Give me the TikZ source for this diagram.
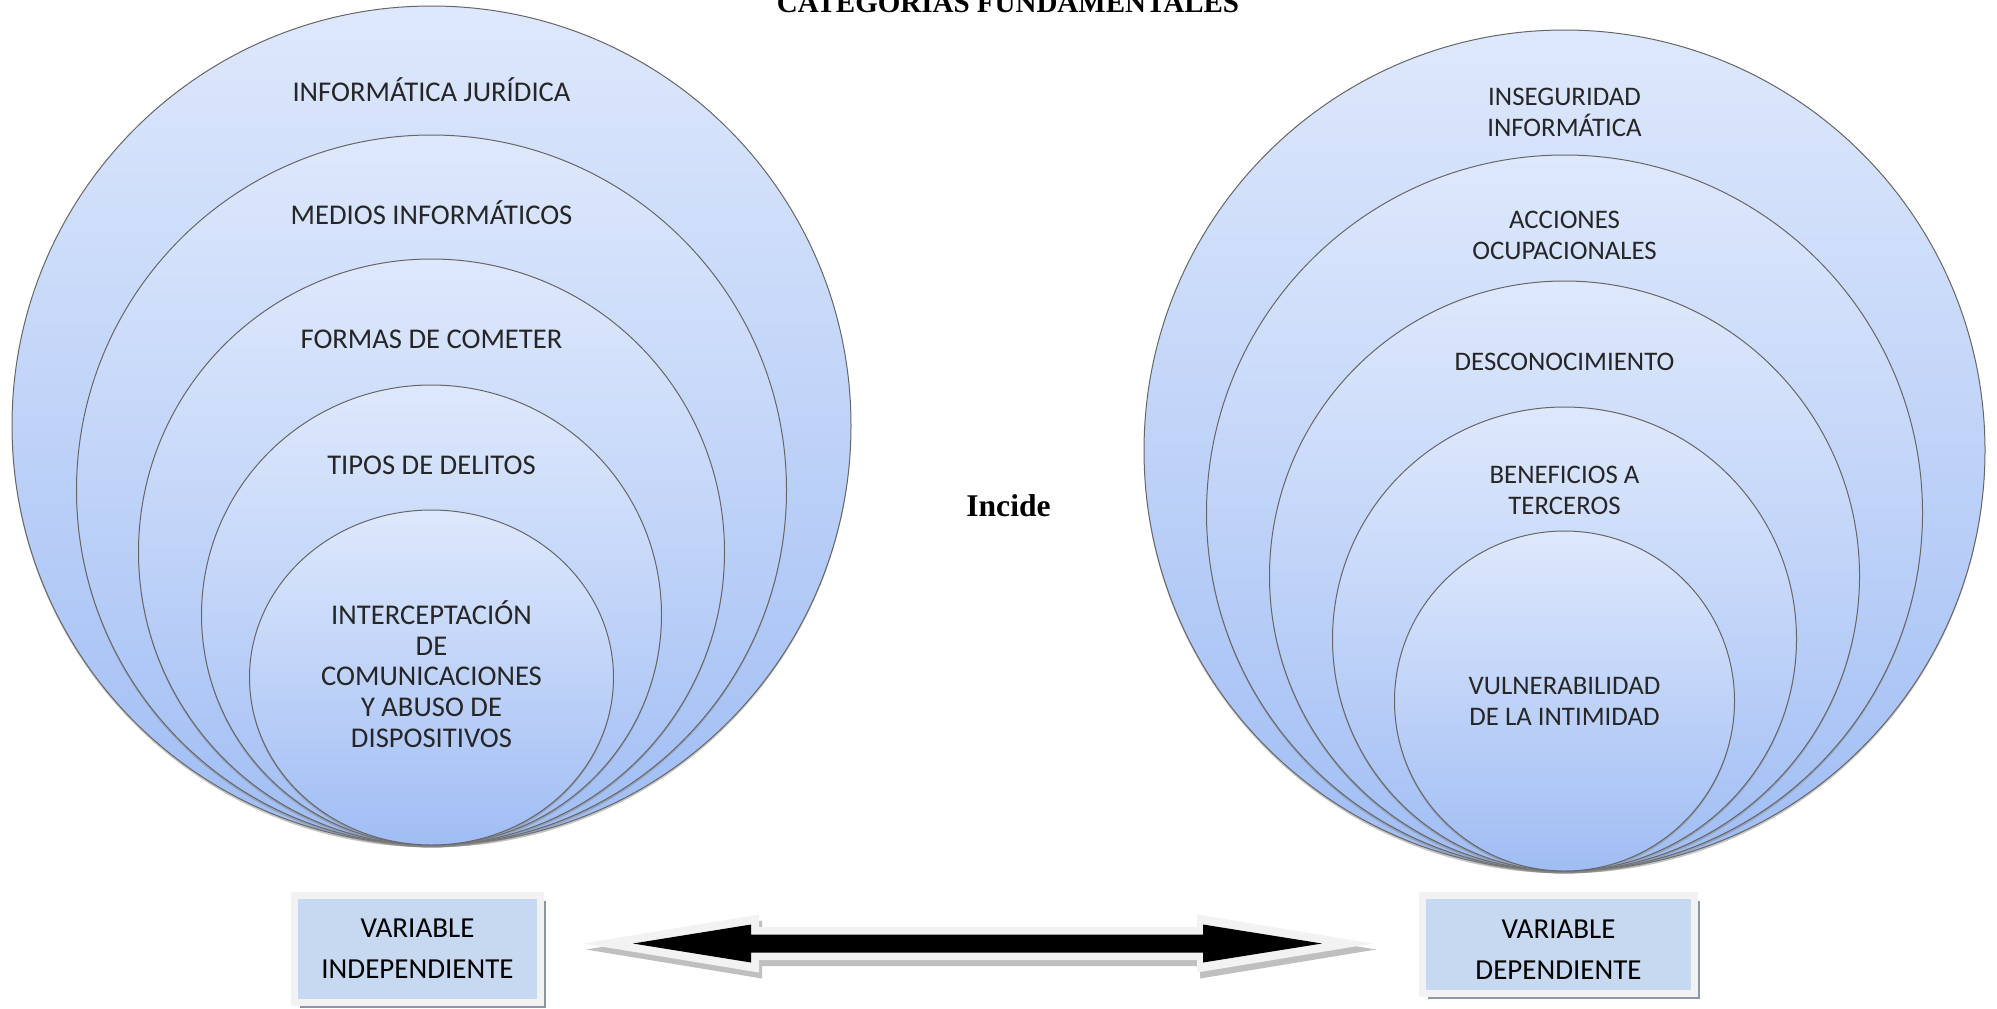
\documentclass[tikz,border=0pt]{standalone}
\usepackage{fontspec}
\setmainfont{Carlito}
\newfontfamily\tnr{Liberation Serif}
\usepackage{tikz}
\usetikzlibrary{shadows}

\definecolor{circtop}{RGB}{222,232,252}
\definecolor{circbot}{RGB}{160,189,244}
\definecolor{boxblue}{RGB}{198,217,241}
\definecolor{framegray}{RGB}{242,242,242}
\definecolor{shadowgray}{RGB}{140,150,168}
\definecolor{arrowgray}{RGB}{191,191,191}

\begin{document}
\begin{tikzpicture}[x=0.5pt, y=-0.5pt,
    circ/.style={draw=black!60, line width=0.5pt, top color=circtop, bottom color=circbot,
      drop shadow={shadow xshift=0pt, shadow yshift=-1.2pt, opacity=0.45}},
    lbl/.style={font=\fontsize{14.3}{15.4}\selectfont, align=center, text=black!85, inner sep=0pt},
    rlbl/.style={font=\fontsize{13.4}{15.2}\selectfont, align=center, text=black!85, inner sep=0pt},
    varbox/.style={fill=boxblue, draw=framegray, line width=3.5pt, inner sep=0pt,
      drop shadow={shadow xshift=2.75pt, shadow yshift=-2.5pt, fill=shadowgray, opacity=1}},
    vartxt/.style={align=center, inner sep=0pt, font=\fontsize{14.5}{20.5}\selectfont},
    ttl/.style={font=\tnr\bfseries\fontsize{14.5}{16}\selectfont, inner sep=0pt, anchor=base}
  ]
  \clip (0,0) rectangle (1997,1008);
  \fill[white] (0,0) rectangle (1997,1008);

  % title and middle word
  \node[ttl] (tit) at (1008,12) {CATEGORÍAS FUNDAMENTALES};
  \node[ttl, font=\tnr\bfseries\fontsize{15.8}{18}\selectfont] (inc) at (1008.5,516.7) {Incide};

  % left circles (independent variable)
  \foreach \r in {419.5,355,293,230}
    \path[circ] (431.5,{845-\r}) circle (\r);
  \path[circ] (431.5,677.5) ellipse (182 and 167.5);

  \node[lbl] (ij) at (431.5,89.5) {INFORMÁTICA JURÍDICA};
  \node[lbl] (mi) at (431.5,212.5) {MEDIOS INFORMÁTICOS};
  \node[lbl] (fc) at (431.5,339) {FORMAS DE COMETER};
  \node[lbl] (td) at (431.5,465.5) {TIPOS DE DELITOS};
  \node[lbl] (ic) at (431.5,674) {INTERCEPTACIÓN\\DE\\COMUNICACIONES\\Y ABUSO DE\\DISPOSITIVOS};

  % right circles (dependent variable)
  \foreach \r in {420.5,358,295,232,170}
    \path[circ] (1564.5,{871-\r}) circle (\r);

  \node[rlbl] (ii) at (1564.5,112.5) {INSEGURIDAD\\INFORMÁTICA};
  \node[rlbl] (ao) at (1564.5,235.5) {ACCIONES\\OCUPACIONALES};
  \node[rlbl] (dc) at (1564.5,362) {DESCONOCIMIENTO};
  \node[rlbl] (bt) at (1564.5,490.5) {BENEFICIOS A\\TERCEROS};
  \node[rlbl] (vu) at (1564.5,701.5) {VULNERABILIDAD\\DE LA INTIMIDAD};

  % variable boxes
  \node[varbox, minimum width=123pt, minimum height=53.5pt,
    label={[vartxt]center:VARIABLE\\INDEPENDIENTE}] (vind) at (417.5,949) {};
  \node[varbox, minimum width=136pt, minimum height=49pt,
    label={[vartxt, yshift=-2.5pt]center:VARIABLE\\DEPENDIENTE}] (vdep) at (1558.5,944.5) {};

  % double arrow between the boxes
  \fill[arrowgray] (586,949.5) -- (762,920.5) -- (762,933) -- (1200,933) -- (1200,920.5) -- (1376,949.5)
    -- (1200,978.5) -- (1200,966) -- (762,966) -- (762,978.5) -- cycle;
  \fill[framegray] (583,943.5) -- (759,914.5) -- (759,927) -- (1197,927) -- (1197,914.5) -- (1373,943.5)
    -- (1197,972.5) -- (1197,960) -- (759,960) -- (759,972.5) -- cycle;
  \fill[black] (633,943.5) -- (751,924.5) -- (751,934.5) -- (1203,934.5) -- (1203,924.5) -- (1322,943.5)
    -- (1203,962.5) -- (1203,952.5) -- (751,952.5) -- (751,962.5) -- cycle;
\end{tikzpicture}
\end{document}
